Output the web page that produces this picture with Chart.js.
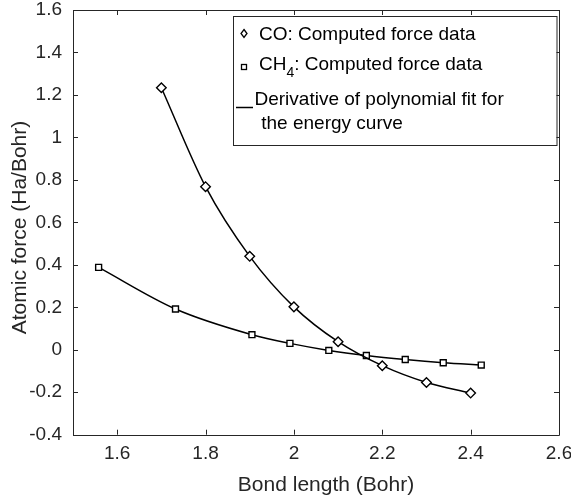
<!DOCTYPE html>
<html>
<head>
<meta charset="utf-8">
<script src="https://cdn.jsdelivr.net/npm/chart.js@4"></script>
<style>
html,body{margin:0;padding:0;background:#fff;}
#wrap{width:571px;height:497px;position:relative;}
</style>
</head>
<body>
<div id="wrap"><canvas id="c" width="571" height="497"></canvas></div>
<script>
// ---- data ----
const coBond = [1.7, 1.8, 1.9, 2.0, 2.1, 2.2, 2.3, 2.4];
const coForce = [1.234, 0.768, 0.440, 0.202, 0.038, -0.075, -0.154, -0.204];
const ch4Bond = [1.558, 1.732, 1.905, 1.991, 2.079, 2.164, 2.252, 2.338, 2.424];
const ch4Force = [0.388, 0.192, 0.071, 0.030, -0.003, -0.027, -0.046, -0.061, -0.072];
const xTicks = [1.6, 1.8, 2.0, 2.2, 2.4, 2.6];
const yTicks = [-0.4, -0.2, 0, 0.2, 0.4, 0.6, 0.8, 1.0, 1.2, 1.4, 1.6];
const xTitle = 'Bond length (Bohr)';
const yTitle = 'Atomic force (Ha/Bohr)';
const legendLabels = ['CO: Computed force data', 'CH', '4', ': Computed force data', 'Derivative of polynomial fit for', ' the energy curve'];

const FONT = '"Liberation Sans", Arial, Helvetica, sans-serif';
const TXT = '#262626';

function pts(xs, ys){ return xs.map((x,i)=>({x:x, y:ys[i]})); }

const framePlugin = {
  id: 'frame',
  afterDatasetsDraw(chart){
    const {ctx, chartArea:a, scales:{x, y}} = chart;
    ctx.save();
    ctx.strokeStyle = TXT;
    ctx.lineWidth = 1;
    ctx.beginPath();
    ctx.rect(Math.round(a.left)+0.5, Math.round(a.top)+0.5, Math.round(a.right-a.left), Math.round(a.bottom-a.top));
    ctx.stroke();
    const tl = 5;
    ctx.beginPath();
    xTicks.forEach(v=>{
      const px = Math.round(x.getPixelForValue(v))+0.5;
      ctx.moveTo(px, a.bottom); ctx.lineTo(px, a.bottom-tl);
      ctx.moveTo(px, a.top); ctx.lineTo(px, a.top+tl);
    });
    yTicks.forEach(v=>{
      const py = Math.round(y.getPixelForValue(v))+0.5;
      ctx.moveTo(a.left, py); ctx.lineTo(a.left+tl, py);
      ctx.moveTo(a.right, py); ctx.lineTo(a.right-tl, py);
    });
    ctx.stroke();
    // axis titles
    ctx.fillStyle = TXT;
    ctx.font = '21px ' + FONT;
    ctx.textAlign = 'center';
    ctx.textBaseline = 'middle';
    ctx.fillText(xTitle, 326, 485);
    ctx.translate(20, 227.5);
    ctx.rotate(-Math.PI/2);
    ctx.fillText(yTitle, 0, 0);
    ctx.restore();
  },
  afterDraw(chart){
    const {ctx, chartArea:a} = chart;
    ctx.save();
    // legend box
    const L = 233, T = 16, R = a.right - 2.5, B = 145;
    ctx.fillStyle = '#fff';
    ctx.fillRect(L, T, R-L, B-T);
    ctx.strokeStyle = TXT; ctx.lineWidth = 1;
    ctx.strokeRect(L+0.5, T+0.5, R-L, B-T);
    ctx.fillStyle = '#000';
    ctx.strokeStyle = '#000';
    ctx.font = '19px ' + FONT;
    ctx.textBaseline = 'alphabetic';
    ctx.textAlign = 'left';
    // diamond icon
    ctx.lineWidth = 1.3;
    ctx.beginPath();
    ctx.moveTo(244, 29.5); ctx.lineTo(247, 33.5); ctx.lineTo(244, 37.5); ctx.lineTo(241, 33.5); ctx.closePath();
    ctx.stroke();
    ctx.fillText(legendLabels[0], 259, 39.5);
    // square icon
    ctx.strokeRect(241.5, 64.5, 5, 5);
    ctx.fillText(legendLabels[1], 259, 69.5);
    let w = ctx.measureText(legendLabels[1]).width;
    ctx.font = '14px ' + FONT;
    ctx.fillText(legendLabels[2], 259 + w, 77);
    let w2 = ctx.measureText(legendLabels[2]).width;
    ctx.font = '19px ' + FONT;
    ctx.fillText(legendLabels[3], 259 + w + w2, 69.5);
    // line icon
    ctx.lineWidth = 1.5;
    ctx.beginPath(); ctx.moveTo(236, 107.5); ctx.lineTo(253, 107.5); ctx.stroke();
    ctx.fillText(legendLabels[4], 254.5, 104.5);
    ctx.fillText(legendLabels[5], 256, 128.5);
    ctx.restore();
  }
};

const common = {
  showLine: true,
  borderColor: '#000',
  borderWidth: 1.5,
  cubicInterpolationMode: 'monotone',
  pointBorderColor: '#000',
  pointBackgroundColor: '#fff',
  pointBorderWidth: 1.4,
  fill: false
};

new Chart(document.getElementById('c'), {
  type: 'scatter',
  data: {
    datasets: [
      Object.assign({label: 'CO', data: pts(coBond, coForce), pointStyle: 'rectRot', pointRadius: 4.8, pointHoverRadius: 4.8}, common),
      Object.assign({label: 'CH4', data: pts(ch4Bond, ch4Force), pointStyle: 'rect', pointRadius: 4.2, pointHoverRadius: 4.2}, common)
    ]
  },
  options: {
    responsive: false,
    animation: false,
    devicePixelRatio: 1,
    layout: {padding: {left: 0, right: 12, top: 10, bottom: 0}},
    plugins: {legend: {display: false}, tooltip: {enabled: false}},
    scales: {
      x: {
        type: 'linear', min: 1.5, max: 2.6,
        afterBuildTicks(s){ s.ticks = xTicks.map(v=>({value:v})); },
        afterFit(s){ s.height = 62.3; s.paddingLeft = 0; s.paddingRight = 0; },
        grid: {display: false, drawTicks: false},
        border: {display: false},
        ticks: {
          padding: 8, color: TXT, font: {family: FONT, size: 19},
          callback: v => (Math.round(v*10)/10).toString(), maxRotation: 0, autoSkip: false
        },
        title: {display: false}
      },
      y: {
        type: 'linear', min: -0.4, max: 1.6,
        afterBuildTicks(s){ s.ticks = yTicks.map(v=>({value:v})); },
        afterFit(s){ s.width = 73; s.paddingTop = 0; s.paddingBottom = 0; },
        grid: {display: false, drawTicks: false},
        border: {display: false},
        ticks: {
          padding: 11, color: TXT, font: {family: FONT, size: 19},
          callback: v => (Math.round(v*10)/10).toString(), autoSkip: false
        },
        title: {display: false}
      }
    }
  },
  plugins: [framePlugin]
});
</script>
</body>
</html>
